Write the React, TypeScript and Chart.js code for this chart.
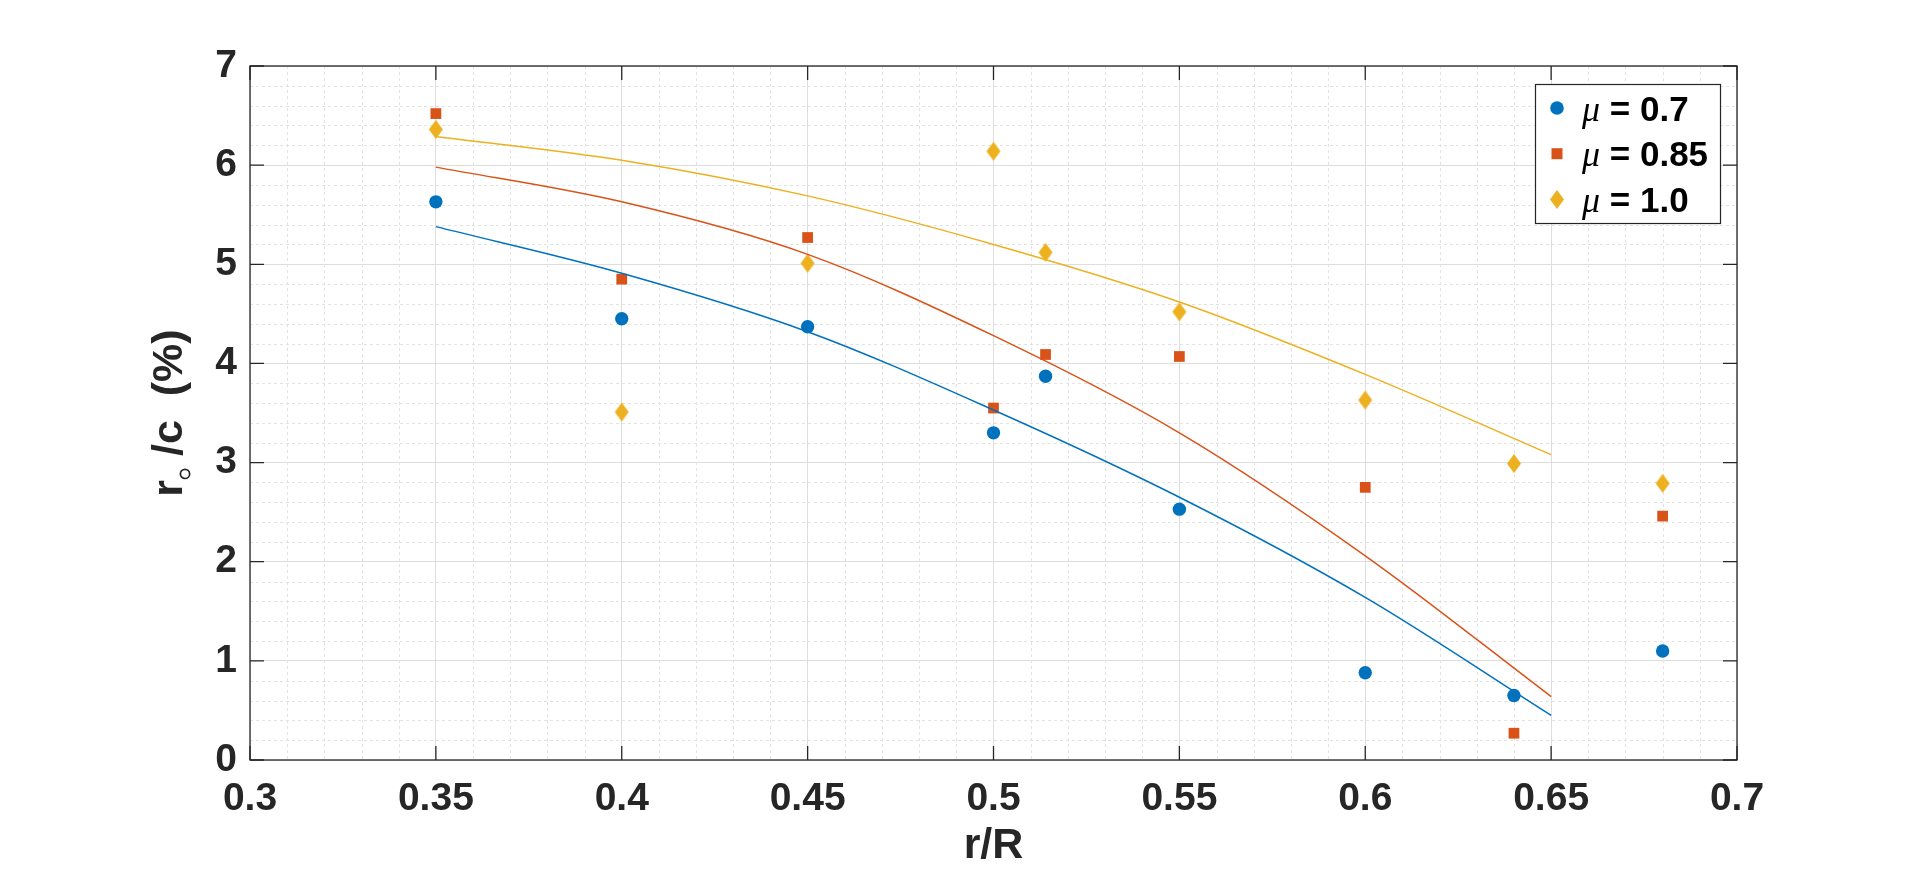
import React, { useEffect, useRef } from "react";
import { Chart, registerables } from "chart.js";

Chart.register(...registerables);

// ---- data ----
const sampleX = [0.35, 0.4, 0.45, 0.5, 0.514, 0.55, 0.6, 0.64, 0.68];
const mu07 = [5.63, 4.45, 4.37, 3.3, 3.87, 2.53, 0.88, 0.65, 1.1];
const mu085 = [6.52, 4.85, 5.27, 3.55, 4.09, 4.07, 2.75, 0.27, 2.46];
const mu10 = [6.36, 3.51, 5.01, 6.14, 5.12, 4.52, 3.63, 2.99, 2.79];

const fitX = [0.35, 0.4, 0.45, 0.5, 0.55, 0.6, 0.65];
const fit07 = [5.38, 4.91, 4.32, 3.53, 2.65, 1.64, 0.45];
const fit085 = [5.98, 5.63, 5.1, 4.28, 3.3, 2.06, 0.64];
const fit10 = [6.29, 6.05, 5.69, 5.2, 4.62, 3.89, 3.08];

const seriesLabels = ["0.7", "0.85", "1.0"];
const xTicks = [0.3, 0.35, 0.4, 0.45, 0.5, 0.55, 0.6, 0.65, 0.7];
const yTicks = [0, 1, 2, 3, 4, 5, 6, 7];
const xTitle = "r/R";

const COLORS = ["#0072BD", "#D95319", "#EDB120"];
const AXIS = "#262626";
const MAJOR_GRID = "#dedede";
const MINOR_GRID = "#e2e2e2";
const SANS = "'Liberation Sans', Arial, sans-serif";

function makeDiamond(color: string, w: number, h: number): HTMLCanvasElement {
  const c = document.createElement("canvas");
  c.width = w + 2;
  c.height = h + 2;
  const g = c.getContext("2d")!;
  g.fillStyle = color;
  g.beginPath();
  g.moveTo(c.width / 2, 1);
  g.lineTo(c.width - 1, c.height / 2);
  g.lineTo(c.width / 2, c.height - 1);
  g.lineTo(1, c.height / 2);
  g.closePath();
  g.fill();
  return c;
}

function drawMarker(ctx: CanvasRenderingContext2D, i: number, x: number, y: number, diamond: HTMLCanvasElement) {
  ctx.fillStyle = COLORS[i];
  if (i === 0) {
    ctx.beginPath();
    ctx.arc(x, y, 6.8, 0, Math.PI * 2);
    ctx.fill();
  } else if (i === 1) {
    const s = 11;
    ctx.fillRect(x - s / 2, y - s / 2, s, s);
  } else {
    ctx.drawImage(diamond, x - diamond.width / 2, y - diamond.height / 2);
  }
}

export default function App() {
  const ref = useRef<HTMLCanvasElement | null>(null);

  useEffect(() => {
    if (!ref.current) return;
    const diamond = makeDiamond(COLORS[2], 14, 19);

    const minorValues = (ticks: number[]) => {
      const out: number[] = [];
      for (let i = 0; i < ticks.length - 1; i++) {
        for (let k = 1; k < 5; k++) out.push(ticks[i] + ((ticks[i + 1] - ticks[i]) * k) / 5);
      }
      return out;
    };

    const matlabPlugin = {
      id: "matlabDecor",
      beforeDatasetsDraw(chart: any) {
        const { ctx, chartArea } = chart;
        const { left, right, top, bottom } = chartArea;
        const xs = chart.scales.x;
        const ys = chart.scales.y;
        ctx.save();
        ctx.strokeStyle = MINOR_GRID;
        ctx.lineWidth = 1;
        ctx.setLineDash([3, 3]);
        for (const v of minorValues(xTicks)) {
          const p = Math.round(xs.getPixelForValue(v)) + 0.5;
          ctx.beginPath();
          ctx.moveTo(p, top);
          ctx.lineTo(p, bottom);
          ctx.stroke();
        }
        for (const v of minorValues(yTicks)) {
          const p = Math.round(ys.getPixelForValue(v)) + 0.5;
          ctx.beginPath();
          ctx.moveTo(left, p);
          ctx.lineTo(right, p);
          ctx.stroke();
        }
        ctx.restore();
      },
      afterDraw(chart: any) {
        const { ctx, chartArea } = chart;
        const { left, right, top, bottom } = chartArea;
        const xs = chart.scales.x;
        const ys = chart.scales.y;
        ctx.save();
        // axes box
        ctx.strokeStyle = AXIS;
        ctx.lineWidth = 1.3;
        ctx.setLineDash([]);
        ctx.strokeRect(left, top, right - left, bottom - top);
        // inward ticks on all sides
        const tl = 14;
        ctx.beginPath();
        for (const v of xTicks) {
          const p = xs.getPixelForValue(v);
          ctx.moveTo(p, bottom);
          ctx.lineTo(p, bottom - tl);
          ctx.moveTo(p, top);
          ctx.lineTo(p, top + tl);
        }
        for (const v of yTicks) {
          const p = ys.getPixelForValue(v);
          ctx.moveTo(left, p);
          ctx.lineTo(left + tl, p);
          ctx.moveTo(right, p);
          ctx.lineTo(right - tl, p);
        }
        ctx.stroke();

        // x title
        ctx.fillStyle = AXIS;
        ctx.font = `bold 43px ${SANS}`;
        ctx.textAlign = "center";
        ctx.textBaseline = "alphabetic";
        ctx.fillText(xTitle, (left + right) / 2, 858);

        // y title: r(ring subscript) /c  (%)
        ctx.save();
        ctx.translate(182, (top + bottom) / 2);
        ctx.rotate(-Math.PI / 2);
        ctx.textAlign = "left";
        ctx.font = `bold 43px ${SANS}`;
        const rest = " /c  (%)";
        const rW = ctx.measureText("r").width;
        const restW = ctx.measureText(rest).width;
        const ringW = 12;
        const total = rW + ringW + restW;
        let cx = -total / 2;
        ctx.fillText("r", cx, 0);
        cx += rW;
        ctx.beginPath();
        ctx.lineWidth = 1.7;
        ctx.strokeStyle = AXIS;
        ctx.arc(cx + ringW / 2, 3, 4.6, 0, Math.PI * 2);
        ctx.stroke();
        cx += ringW;
        ctx.fillText(rest, cx, 0);
        ctx.restore();

        // legend
        const bx = 1535, by = 84, bw = 185, bh = 139;
        ctx.fillStyle = "#ffffff";
        ctx.fillRect(bx, by, bw, bh);
        ctx.strokeStyle = AXIS;
        ctx.lineWidth = 1.2;
        ctx.strokeRect(bx + 0.5, by + 0.5, bw, bh);
        for (let i = 0; i < seriesLabels.length; i++) {
          const cy = by + 24 + i * 45.7;
          drawMarker(ctx, i, 1557, cy, diamond);
          ctx.fillStyle = "#000000";
          ctx.textAlign = "left";
          ctx.textBaseline = "alphabetic";
          const base = cy + 12.5;
          ctx.font = `italic 36px 'Liberation Serif', serif`;
          ctx.fillText("\u03bc", 1582, base);
          const muW = ctx.measureText("\u03bc").width;
          ctx.font = `bold 35px ${SANS}`;
          ctx.fillText(" = " + seriesLabels[i], 1582 + muW, base);
        }
        ctx.restore();
      },
    };

    const pts = (xs: number[], ys: number[]) => xs.map((x, i) => ({ x, y: ys[i] }));
    const fits = [fit07, fit085, fit10];
    const samples = [mu07, mu085, mu10];

    const datasets: any[] = [];
    fits.forEach((f, i) => {
      datasets.push({
        type: "line",
        label: "fit " + seriesLabels[i],
        data: pts(fitX, f),
        borderColor: COLORS[i],
        borderWidth: 1.5,
        pointRadius: 0,
        fill: false,
        showLine: true,
        cubicInterpolationMode: "monotone",
      });
    });
    samples.forEach((s, i) => {
      datasets.push({
        type: "scatter",
        label: "\u03bc = " + seriesLabels[i],
        data: pts(sampleX, s),
        backgroundColor: COLORS[i],
        borderWidth: 0,
        pointStyle: i === 0 ? "circle" : i === 1 ? "rect" : diamond,
        pointRadius: i === 0 ? 6.7 : i === 1 ? 7.6 : 9,
      });
    });

    const chart = new Chart(ref.current, {
      type: "scatter",
      data: { datasets },
      plugins: [matlabPlugin],
      options: {
        animation: false,
        responsive: false,
        events: [],
        layout: { padding: { left: 0, top: 66, right: 183, bottom: 0 } },
        plugins: { legend: { display: false }, tooltip: { enabled: false } },
        scales: {
          x: {
            type: "linear",
            min: 0.3,
            max: 0.7,
            afterFit: (s: any) => {
              s.height = 119;
            },
            afterBuildTicks: (s: any) => {
              s.ticks = xTicks.map((v) => ({ value: v }));
            },
            ticks: {
              autoSkip: false,
              maxRotation: 0,
              padding: 16,
              color: AXIS,
              font: { family: SANS, size: 39, weight: "bold" },
              callback: (v: any) => String(+Number(v).toFixed(2)),
            },
            grid: { color: MAJOR_GRID, lineWidth: 1, drawTicks: false },
            border: { display: false },
          },
          y: {
            type: "linear",
            min: 0,
            max: 7,
            afterFit: (s: any) => {
              s.width = 250;
            },
            afterBuildTicks: (s: any) => {
              s.ticks = yTicks.map((v) => ({ value: v }));
            },
            ticks: {
              autoSkip: false,
              padding: 13,
              color: AXIS,
              font: { family: SANS, size: 39, weight: "bold" },
              callback: (v: any) => String(v),
            },
            grid: { color: MAJOR_GRID, lineWidth: 1, drawTicks: false },
            border: { display: false },
          },
        },
      } as any,
    });

    return () => chart.destroy();
  }, []);

  return (
    <canvas
      ref={ref}
      width={1920}
      height={879}
      style={{ position: "fixed", left: 0, top: 0, width: 1920, height: 879, display: "block", background: "#ffffff" }}
    />
  );
}
